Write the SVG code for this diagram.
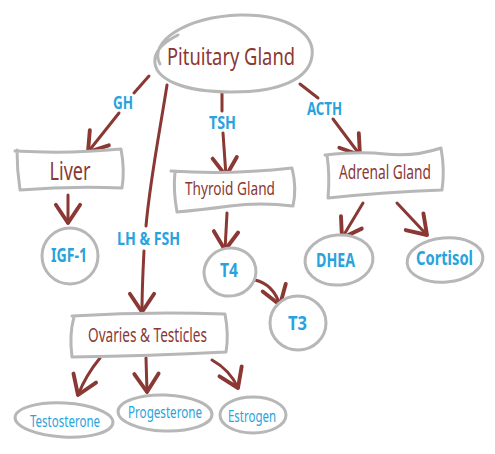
<svg xmlns="http://www.w3.org/2000/svg" width="495" height="454" viewBox="0 0 495 454">
<defs>
<marker id="ah" markerUnits="userSpaceOnUse" markerWidth="34" markerHeight="34" refX="0" refY="0" viewBox="-18 -14 22 28" orient="auto">
<path d="M-15,-10 L0,0 L-15,10" fill="none" stroke="#8a3833" stroke-width="3.2" stroke-linecap="round" stroke-linejoin="round"/>
</marker>
<style>
.shape{fill:#fff;stroke:#b7b7b7;stroke-width:3;stroke-linecap:round;stroke-linejoin:round}
.arr{fill:none;stroke:#8a3833;stroke-width:3;stroke-linecap:round}
.end{marker-end:url(#ah)}
.t{font-family:"Noto Sans","Liberation Sans",sans-serif;fill:#8a3833;text-anchor:middle}
.b{font-family:"Noto Sans","Liberation Sans",sans-serif;fill:#27a3dd;text-anchor:middle;font-weight:bold}
.l{font-family:"Noto Sans","Liberation Sans",sans-serif;fill:#27a3dd;text-anchor:middle}
</style>
</defs>
<rect width="495" height="454" fill="#fff"/>
<g id="connectors">
<path class="arr" d="M149,76 L134,93"/>
<path class="arr end" d="M119,113 L88,152"/>
<path class="arr" d="M167,85 C160,130 150,180 146,226"/>
<path class="arr end" d="M144,251 C143,270 142,290 142,312"/>
<path class="arr" d="M222,92 L222,111"/>
<path class="arr end" d="M223,133 L226,176"/>
<path class="arr" d="M300,84 L318,98"/>
<path class="arr end" d="M333,119 L360,155"/>
<path class="arr end" d="M68,195 L68,223"/>
<path class="arr end" d="M227,213 L225,250"/>
<path class="arr end" d="M255,280 Q273,284 280,305"/>
<path class="arr end" d="M363,203 L342,238"/>
<path class="arr end" d="M397,203 L427,235"/>
<path class="arr end" d="M100,358 Q86,375 78,395"/>
<path class="arr end" d="M146,358 L147,392"/>
<path class="arr end" d="M212,360 Q230,370 238,388"/>
</g>
<g id="pituitary">
<path class="shape" d="M160,64 C148,42 185,17 240,15 C290,14 315,35 312,56 C309,79 280,92 232,92 C185,92 152,80 155,58 C157,47 168,40 178,35"/>
<text class="t" x="231" y="65" font-size="24" textLength="128" lengthAdjust="spacingAndGlyphs">Pituitary Gland</text>
</g>
<g id="label-gh"><text class="b" x="123" y="109" font-size="18" textLength="20" lengthAdjust="spacingAndGlyphs">GH</text></g>
<g id="label-tsh"><text class="b" x="222.5" y="129" font-size="18" textLength="27" lengthAdjust="spacingAndGlyphs">TSH</text></g>
<g id="label-acth"><text class="b" x="324.5" y="115" font-size="18" textLength="35" lengthAdjust="spacingAndGlyphs">ACTH</text></g>
<g id="label-lhfsh"><text class="b" x="148.5" y="245" font-size="18" textLength="63" lengthAdjust="spacingAndGlyphs">LH &amp; FSH</text></g>
<g id="liver">
<path class="shape" d="M15,151 Q70,154 121,149 Q125,170 122,188 Q70,186 20,190 Q17,170 17,150"/>
<text class="t" x="70" y="180" font-size="25" textLength="41" lengthAdjust="spacingAndGlyphs">Liver</text>
</g>
<g id="thyroid">
<path class="shape" d="M171,171 Q230,175 292,168 Q297,188 293,206 Q260,202 230,206 Q200,210 177,212 Q173,190 175,172"/>
<text class="t" x="230" y="195" font-size="18" textLength="90" lengthAdjust="spacingAndGlyphs">Thyroid Gland</text>
</g>
<g id="adrenal">
<path class="shape" d="M325,155 Q360,151 385,154 Q415,157 441,148 Q445,170 442,190 Q385,192 328,198 Q330,175 327,155"/>
<text class="t" x="385" y="179" font-size="19" textLength="92" lengthAdjust="spacingAndGlyphs">Adrenal Gland</text>
</g>
<g id="igf1">
<ellipse class="shape" cx="70" cy="256" rx="28" ry="28"/>
<text class="b" x="69" y="262" font-size="19" textLength="36" lengthAdjust="spacingAndGlyphs">IGF-1</text>
</g>
<g id="t4">
<ellipse class="shape" cx="230" cy="272" rx="26" ry="24" transform="rotate(-10 230 272)"/>
<text class="b" x="229" y="277" font-size="19" textLength="18" lengthAdjust="spacingAndGlyphs">T4</text>
</g>
<g id="t3">
<ellipse class="shape" cx="298" cy="323" rx="28" ry="27"/>
<text class="b" x="297.5" y="330" font-size="19" textLength="19" lengthAdjust="spacingAndGlyphs">T3</text>
</g>
<g id="dhea">
<ellipse class="shape" cx="339" cy="260" rx="34" ry="25" transform="rotate(-5 339 260)"/>
<text class="b" x="335.5" y="267" font-size="19" textLength="39" lengthAdjust="spacingAndGlyphs">DHEA</text>
</g>
<g id="cortisol">
<ellipse class="shape" cx="445" cy="260" rx="38" ry="22" transform="rotate(-5 445 260)"/>
<text class="b" x="444.5" y="265" font-size="19" textLength="57" lengthAdjust="spacingAndGlyphs">Cortisol</text>
</g>
<g id="ovaries">
<path class="shape" d="M72,316 Q150,311 225,314 Q229,335 226,352 Q150,356 72,357 Q69,335 74,317"/>
<text class="t" x="147.5" y="342" font-size="20" textLength="119" lengthAdjust="spacingAndGlyphs">Ovaries &amp; Testicles</text>
</g>
<g id="testosterone">
<ellipse class="shape" cx="64" cy="420" rx="49" ry="17" transform="rotate(3 64 420)"/>
<text class="l" x="65" y="427" font-size="17" textLength="70" lengthAdjust="spacingAndGlyphs">Testosterone</text>
</g>
<g id="progesterone">
<ellipse class="shape" cx="165" cy="413" rx="47" ry="18" transform="rotate(2 165 413)"/>
<text class="l" x="165" y="418" font-size="17" textLength="74" lengthAdjust="spacingAndGlyphs">Progesterone</text>
</g>
<g id="estrogen">
<ellipse class="shape" cx="253" cy="415" rx="33" ry="18"/>
<text class="l" x="252" y="422" font-size="17" textLength="48" lengthAdjust="spacingAndGlyphs">Estrogen</text>
</g>
</svg>
